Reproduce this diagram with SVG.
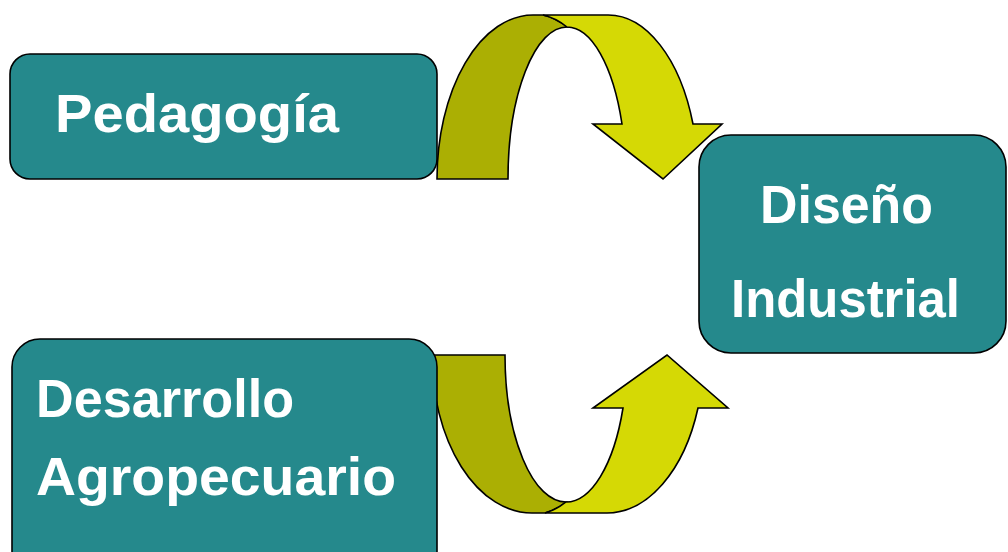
<svg xmlns="http://www.w3.org/2000/svg" width="1008" height="552" viewBox="0 0 1008 552">
<style>
.box{fill:#25898C;stroke:#000;stroke-width:1.6}
.lbl{fill:#fff;font-family:"Liberation Sans","DejaVu Sans",sans-serif;font-weight:bold;font-size:53px}
.dark{fill:#ABAF03;stroke:#000;stroke-width:1.6;stroke-linejoin:miter}
.light{fill:#D5D905;stroke:#000;stroke-width:1.6;stroke-linejoin:miter}
</style>
<rect width="1008" height="552" fill="#fff"/>
<g id="connectors">
<g id="arrow-top">
<path class="dark" d="M437,179 A96,164 0 0 1 533,15 L543,15 Q556,18 567,27 A59,152 0 0 0 508,179 Z"/>
<path class="light" d="M543,15 L608,15 A90,164 0 0 1 693,124 L722,124 L663,179 L593,124 L622,124 A59,152 0 0 0 567,27 Q556,18 543,15 Z"/>
</g>
<g id="arrow-bottom">
<path class="dark" d="M432,355 L505,355 A61,147 0 0 0 566,502 Q556,510 545,513 L532,513 A100,158 0 0 1 432,355 Z"/>
<path class="light" d="M545,513 L607,513 A97,158 0 0 0 698,408 L728,408 L667,355 L593,408 L623,408 A61,147 0 0 1 566,502 Q556,510 545,513 Z"/>
</g>
</g>
<g id="node-pedagogia">
<rect class="box" x="10" y="54" width="427" height="125" rx="20"/>
<text class="lbl" x="55" y="132" textLength="284" lengthAdjust="spacingAndGlyphs">Pedagogía</text>
</g>
<g id="node-desarrollo">
<rect class="box" x="12" y="339" width="425" height="240" rx="28"/>
<text class="lbl" x="36" y="417" textLength="258" lengthAdjust="spacingAndGlyphs">Desarrollo</text>
<text class="lbl" x="36" y="495" textLength="360" lengthAdjust="spacingAndGlyphs">Agropecuario</text>
</g>
<g id="node-diseno">
<rect class="box" x="699" y="135" width="307" height="218" rx="32"/>
<text class="lbl" x="760" y="223" textLength="173" lengthAdjust="spacingAndGlyphs">Diseño</text>
<text class="lbl" x="731" y="317" textLength="229" lengthAdjust="spacingAndGlyphs">Industrial</text>
</g>
</svg>
